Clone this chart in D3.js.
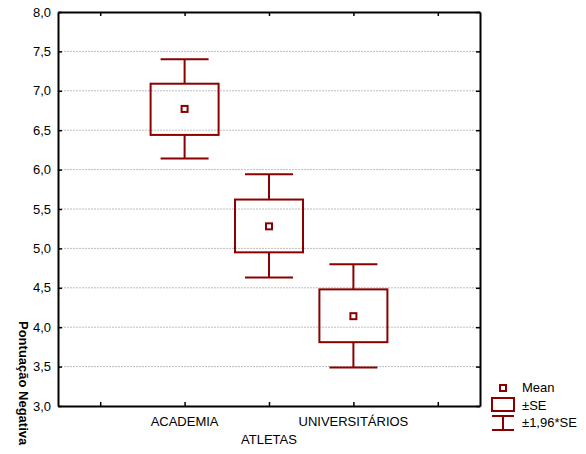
<!DOCTYPE html>
<html>
<head>
<meta charset="utf-8">
<script src="https://cdn.jsdelivr.net/npm/d3@7"></script>
<style>
  html, body { margin: 0; padding: 0; background: #fff; }
  svg { display: block; font-family: Arial, "Liberation Sans", sans-serif; }
</style>
</head>
<body>
<svg id="chart" width="586" height="454"></svg>
<script>
// ---- data ----
const categories = ["ACADEMIA", "ATLETAS", "UNIVERSITÁRIOS"];
const categoryPos = [1.5, 2.5, 3.5];
const means  = [6.77, 5.28, 4.14];
const seLow  = [6.44, 4.95, 3.81];
const seHigh = [7.09, 5.62, 4.48];
const ciLow  = [6.14, 4.63, 3.49];
const ciHigh = [7.40, 5.94, 4.80];
const yTicks = [3.0, 3.5, 4.0, 4.5, 5.0, 5.5, 6.0, 6.5, 7.0, 7.5, 8.0];
const xTicks = [0.5, 1.5, 2.5, 3.5, 4.5];
const legendItems = ["Mean", "±SE", "±1,96*SE"];
const yTitle = "Pontuação Negativa";

// ---- layout ----
const color = "#8B0000";
const L = 58, R = 480, T = 12, B = 406;
const svg = d3.select("#chart");

const x = d3.scaleLinear().domain([0, 5]).range([L, R]);
const y = d3.scaleLinear().domain([3, 8]).range([B, T]);
const fmt = d => d.toFixed(1).replace(".", ",");

// gridlines
svg.append("g").selectAll("line")
  .data(yTicks.filter(d => d > 3 && d < 8))
  .join("line")
  .attr("x1", L).attr("x2", R)
  .attr("y1", d => y(d)).attr("y2", d => y(d))
  .attr("stroke", "#bdbdbd").attr("stroke-width", 1)
  .attr("stroke-dasharray", "2,1");

// axes
function styleAxis(g) {
  g.selectAll(".domain").attr("stroke", "#000").attr("stroke-width", 2);
  g.selectAll(".tick line").attr("stroke", "#000").attr("stroke-width", 1.5);
  g.selectAll("text").attr("font-size", 13).attr("fill", "#000")
    .attr("font-family", "Arial, 'Liberation Sans', sans-serif");
}
svg.append("g").attr("transform", `translate(${L},0)`)
  .call(d3.axisLeft(y).tickValues(yTicks).tickSize(-4).tickSizeOuter(0).tickPadding(7).tickFormat(fmt))
  .call(styleAxis);
svg.append("g").attr("transform", `translate(${R},0)`)
  .call(d3.axisRight(y).tickValues(yTicks).tickSize(-4).tickSizeOuter(0).tickFormat(""))
  .call(styleAxis);
svg.append("g").attr("transform", `translate(0,${B})`)
  .call(d3.axisBottom(x).tickValues(xTicks).tickSize(-4).tickSizeOuter(0).tickFormat(""))
  .call(styleAxis);
svg.append("g").attr("transform", `translate(0,${T})`)
  .call(d3.axisTop(x).tickValues(xTicks).tickSize(-4).tickSizeOuter(0).tickFormat(""))
  .call(styleAxis);

// category labels
svg.append("g").selectAll("text")
  .data(categories)
  .join("text")
  .attr("x", (d, i) => x(categoryPos[i]))
  .attr("y", (d, i) => i === 1 ? 444 : 426)
  .attr("text-anchor", "middle")
  .attr("font-size", 13)
  .text(d => d);

// y title
svg.append("text")
  .attr("transform", "translate(19,321) rotate(90)")
  .attr("font-size", 13).attr("font-weight", "bold")
  .text(yTitle);

// boxes
const boxW = 68, capW = 48, mk = 6;
const g = svg.append("g").attr("stroke", color).attr("stroke-width", 2).attr("fill", "none");
categories.forEach((c, i) => {
  const cx = x(categoryPos[i]);
  // whiskers
  g.append("line").attr("x1", cx).attr("x2", cx).attr("y1", y(ciHigh[i])).attr("y2", y(seHigh[i]));
  g.append("line").attr("x1", cx).attr("x2", cx).attr("y1", y(seLow[i])).attr("y2", y(ciLow[i]));
  g.append("line").attr("x1", cx - capW / 2).attr("x2", cx + capW / 2).attr("y1", y(ciHigh[i])).attr("y2", y(ciHigh[i]));
  g.append("line").attr("x1", cx - capW / 2).attr("x2", cx + capW / 2).attr("y1", y(ciLow[i])).attr("y2", y(ciLow[i]));
  // box
  g.append("rect").attr("x", cx - boxW / 2).attr("y", y(seHigh[i]))
    .attr("width", boxW).attr("height", y(seLow[i]) - y(seHigh[i]));
  // mean
  g.append("rect").attr("x", cx - mk / 2).attr("y", y(means[i]) - mk / 2)
    .attr("width", mk).attr("height", mk).attr("fill", "#fff");
});

// legend
const lg = svg.append("g");
const lx = 503;
lg.append("rect").attr("x", lx - 3).attr("y", 385).attr("width", 6).attr("height", 6)
  .attr("fill", "#fff").attr("stroke", color).attr("stroke-width", 2);
lg.append("rect").attr("x", lx - 11).attr("y", 398).attr("width", 22).attr("height", 13)
  .attr("fill", "none").attr("stroke", color).attr("stroke-width", 2);
lg.append("line").attr("x1", lx).attr("x2", lx).attr("y1", 416).attr("y2", 430)
  .attr("stroke", color).attr("stroke-width", 2);
lg.append("line").attr("x1", lx - 11).attr("x2", lx + 11).attr("y1", 416).attr("y2", 416)
  .attr("stroke", color).attr("stroke-width", 2);
lg.append("line").attr("x1", lx - 11).attr("x2", lx + 11).attr("y1", 430).attr("y2", 430)
  .attr("stroke", color).attr("stroke-width", 2);
lg.selectAll("text").data(legendItems).join("text")
  .attr("x", 522).attr("y", (d, i) => 392 + i * 17.5)
  .attr("font-size", 13).text(d => d);
</script>
</body>
</html>
